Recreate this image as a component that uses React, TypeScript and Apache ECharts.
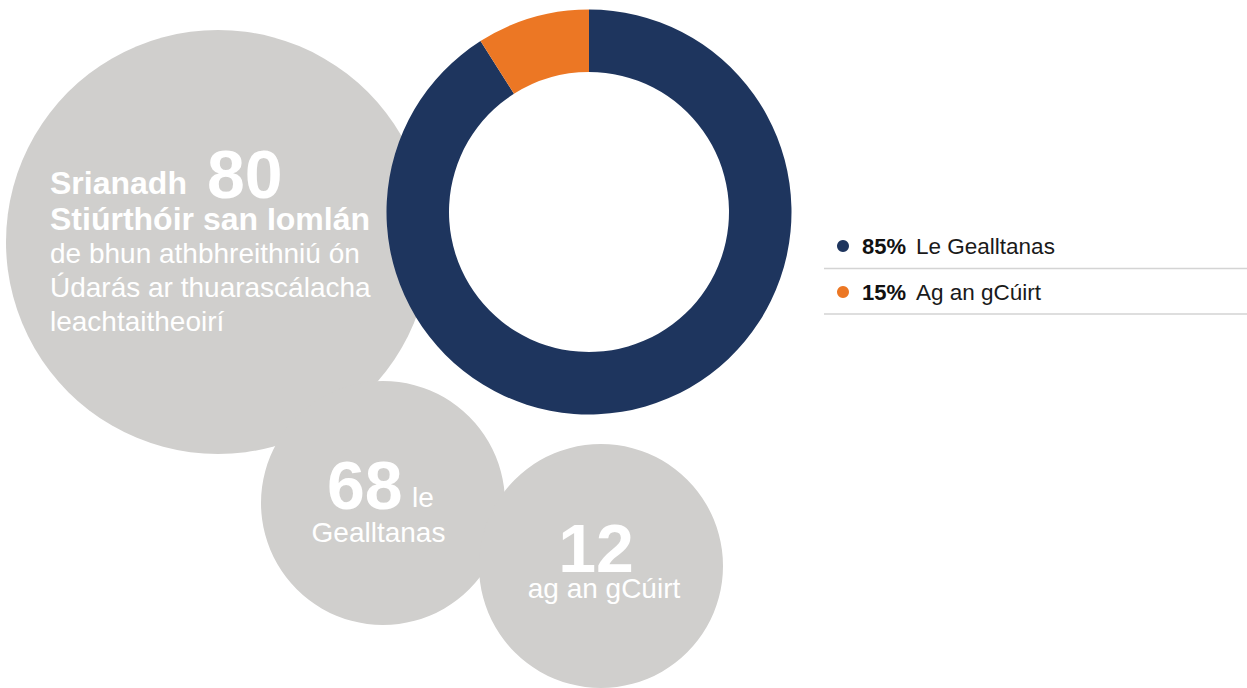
import React, { useEffect, useRef } from "react";
import * as echarts from "echarts";

// ---- data ----
const categories = ["Le Gealltanas", "Ag an gCúirt"];
const counts = [68, 12];
const totalCount = 80;
const legendPercents = [85, 15];
// share of the ring as drawn in the picture
const ringShares = [91, 9];
const countCaptions = ["le", "Gealltanas", "ag an gCúirt"];
const headlineWords = ["Srianadh", "Stiúrthóir san Iomlán"];
const headlineLines = ["de bhun athbhreithniú ón", "Údarás ar thuarascálacha", "leachtaitheoirí"];

const NAVY = "#1E355E";
const ORANGE = "#EC7724";
const GREY = "#D0CFCD";
const FONT = "'Liberation Sans', Arial, Helvetica, sans-serif";

function txt(text: string, x: number, baseline: number, size: number, bold: boolean, align: string = "left") {
  return {
    type: "text",
    z: 10,
    style: {
      text,
      x,
      y: baseline - size * 0.31,
      fill: "#ffffff",
      font: `${bold ? "bold " : ""}${size}px ${FONT}`,
      textAlign: align,
      textVerticalAlign: "middle",
    },
  };
}

export default function App() {
  const ref = useRef<HTMLDivElement>(null);
  useEffect(() => {
    if (!ref.current) return;
    const chart = echarts.init(ref.current, null, { renderer: "svg" });
    const graphics: any[] = [
      { type: "circle", z: 1, shape: { cx: 218, cy: 242, r: 212 }, style: { fill: GREY } },
      { type: "circle", z: 1, shape: { cx: 383, cy: 503, r: 122 }, style: { fill: GREY } },
      { type: "circle", z: 1, shape: { cx: 601, cy: 566, r: 122 }, style: { fill: GREY } },
      txt(headlineWords[0], 50, 193, 32, true),
      txt(String(totalCount), 207, 195, 68, true),
      txt(headlineWords[1], 50, 229, 32, true),
      txt(headlineLines[0], 50, 262, 28, false),
      txt(headlineLines[1], 50, 296, 28, false),
      txt(headlineLines[2], 50, 330, 28, false),
      txt(String(counts[0]), 327, 506, 68, true),
      txt(countCaptions[0], 412, 506, 28, false),
      txt(countCaptions[1], 378.5, 541, 28, false, "center"),
      txt(String(counts[1]), 596, 569, 68, true, "center"),
      txt(countCaptions[2], 604, 597, 28, false, "center"),
      { type: "line", z: 5, shape: { x1: 824, y1: 268.5, x2: 1247, y2: 268.5 }, style: { stroke: "#D4D4D4", lineWidth: 1.5 } },
      { type: "line", z: 5, shape: { x1: 824, y1: 314, x2: 1247, y2: 314 }, style: { stroke: "#DEDEDE", lineWidth: 2 } },
    ];
    chart.setOption({
      animation: false,
      backgroundColor: "#ffffff",
      color: [NAVY, ORANGE],
      legend: {
        orient: "vertical",
        left: 832,
        top: 229,
        icon: "circle",
        itemWidth: 12,
        itemHeight: 12,
        itemGap: 22,
        selectedMode: false,
        data: categories,
        formatter: (name: string) => {
          const i = categories.indexOf(name);
          return `{g|}{p|${legendPercents[i]}%}{s|}{n|${name}}`;
        },
        textStyle: {
          lineHeight: 24,
          rich: {
            g: { width: 8 },
            p: { fontFamily: FONT, fontWeight: "bold", fontSize: 22, color: "#111111" },
            s: { width: 10 },
            n: { fontFamily: FONT, fontSize: 22.5, color: "#1a1a1a" },
          },
        },
      },
      graphic: graphics,
      series: [
        {
          type: "pie",
          z: 3,
          center: [589, 212],
          radius: [140, 202.5],
          startAngle: 90,
          clockwise: true,
          label: { show: false },
          labelLine: { show: false },
          silent: true,
          itemStyle: { borderWidth: 0 },
          data: categories.map((name, i) => ({ name, value: ringShares[i] })),
        },
      ],
    });
    return () => chart.dispose();
  }, []);
  return <div ref={ref} style={{ position: "fixed", left: 0, top: 0, width: 1247, height: 688 }} />;
}
